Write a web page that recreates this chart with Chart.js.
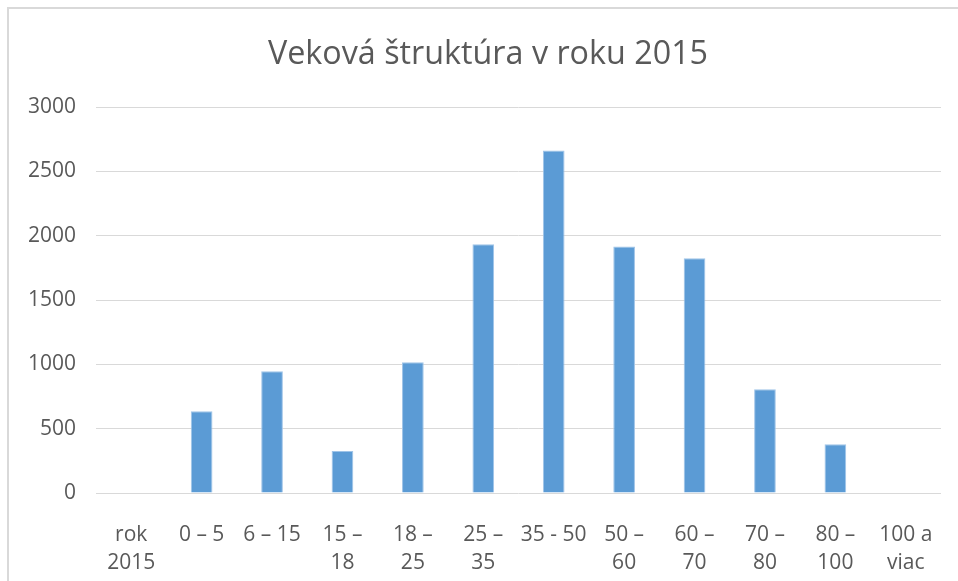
<!DOCTYPE html>
<html>
<head>
<meta charset="utf-8">
<title>Veková štruktúra v roku 2015</title>
<script src="https://cdn.jsdelivr.net/npm/chart.js@4.4.1/dist/chart.umd.min.js"></script>
<style>
  html, body { margin: 0; padding: 0; background: #fff; }
  #frame {
    position: absolute;
    left: 7px;
    top: 7px;
    width: 1000px;
    height: 1000px;
    border: 2px solid #d9d9d9;
  }
  #wrap {
    position: absolute;
    left: 0;
    top: 0;
    width: 958px;
    height: 581px;
  }
  #title {
    position: absolute;
    left: 188px;
    top: 35px;
    width: 600px;
    text-align: center;
    white-space: nowrap;
    font: 32.3px/1 "Open Sans", "Noto Sans", sans-serif;
    color: #595959;
  }
</style>
</head>
<body>
<div id="frame"></div>
<div id="wrap"><canvas id="chart"></canvas></div>
<div id="title"></div>
<script>
const chartTitle = "Veková štruktúra v roku 2015";

// each label is split into the lines shown under the axis
const categories = [
  ["rok", "2015"],
  ["0 – 5"],
  ["6 – 15"],
  ["15 –", "18"],
  ["18 –", "25"],
  ["25 –", "35"],
  ["35 - 50"],
  ["50 –", "60"],
  ["60 –", "70"],
  ["70 –", "80"],
  ["80 –", "100"],
  ["100 a", "viac"],
];

const counts = [null, 635, 946, 327, 1016, 1934, 2662, 1915, 1825, 806, 379, null];

const yMin = 0;
const yMax = 3000;
const yStep = 500;

const textColor = "#595959";
const fontFamily = '"Open Sans", "Noto Sans", sans-serif';

document.getElementById("title").textContent = chartTitle;

const canvas = document.getElementById("chart");

new Chart(canvas, {
  type: "bar",
  data: {
    labels: categories,
    datasets: [
      {
        label: "Počet",
        data: counts,
        backgroundColor: "#5b9bd5",
        borderColor: "#9fc4e8",
        borderWidth: 1,
        borderSkipped: "bottom",
        categoryPercentage: 1,
        barPercentage: 0.308,
      },
    ],
  },
  options: {
    responsive: true,
    maintainAspectRatio: false,
    animation: false,
    layout: {
      padding: { left: 0, right: 17, top: 107, bottom: 0 },
    },
    plugins: {
      legend: { display: false },
      tooltip: { enabled: false },
      title: { display: false },
    },
    scales: {
      x: {
        grid: { display: false },
        border: { display: false },
        ticks: {
          color: textColor,
          padding: 19.5,
          maxRotation: 0,
          minRotation: 0,
          autoSkip: false,
          font: { family: fontFamily, size: 21, lineHeight: 1.35 },
        },
        afterFit(scale) {
          scale.height = 88;
        },
      },
      y: {
        min: yMin,
        max: yMax,
        border: { display: false },
        grid: {
          color: "#d9d9d9",
          lineWidth: 1,
          drawTicks: false,
        },
        ticks: {
          stepSize: yStep,
          color: textColor,
          padding: 20,
          font: { family: fontFamily, size: 21 },
          callback: (v) => String(v),
        },
        afterFit(scale) {
          scale.width = 96;
        },
      },
    },
  },
});
</script>
</body>
</html>
